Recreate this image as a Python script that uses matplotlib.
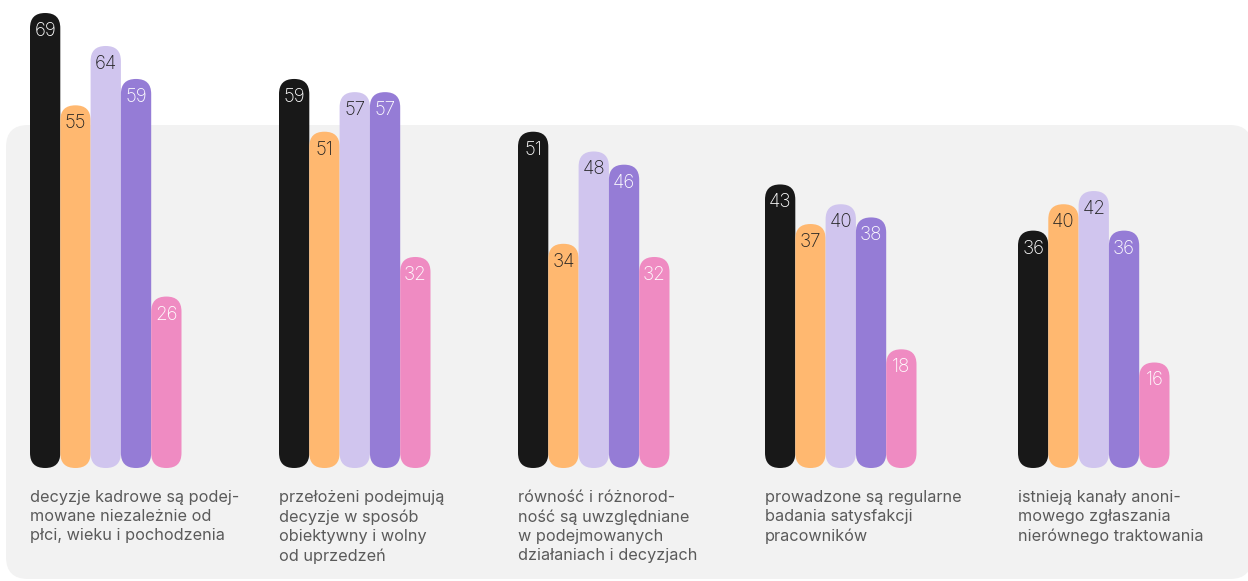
import matplotlib
matplotlib.use("Agg")
import matplotlib.pyplot as plt
from matplotlib.patches import FancyBboxPatch

categories = [
    "decyzje kadrowe są podej-\nmowane niezależnie od\npłci, wieku i pochodzenia",
    "przełożeni podejmują\ndecyzje w sposób\nobiektywny i wolny\nod uprzedzeń",
    "równość i różnorod-\nność są uwzględniane\nw podejmowanych\ndziałaniach i decyzjach",
    "prowadzone są regularne\nbadania satysfakcji\npracowników",
    "istnieją kanały anoni-\nmowego zgłaszania\nnierównego traktowania",
]
series_1 = [69, 59, 51, 43, 36]
series_2 = [55, 51, 34, 37, 40]
series_3 = [64, 57, 48, 40, 42]
series_4 = [59, 57, 46, 38, 36]
series_5 = [26, 32, 32, 18, 16]
series = [series_1, series_2, series_3, series_4, series_5]

colors = ["#181818", "#FFB870", "#D0C5EE", "#957CD6", "#EF8BC2"]
text_colors = ["#FFFFFF", "#222222", "#222222", "#FFFFFF", "#FFFFFF"]

W, H = 1248, 581
fig = plt.figure(figsize=(W / 100, H / 100), dpi=100)
ax = fig.add_axes([0, 0, 1, 1])
ax.set_axis_off()

base_px = 468
ppu = 6.594  # pixels per value unit
ax.set_xlim(0, W)
ax.set_ylim(-(H - base_px) / ppu, base_px / ppu)

def ypx(p):
    return (base_px - p) / ppu

aspect = 1 / ppu

# background panel
bg = FancyBboxPatch((6, ypx(579)), 1246, ypx(125) - ypx(579),
                    boxstyle="round,pad=0,rounding_size=22",
                    mutation_aspect=aspect, fc="#F2F2F2", ec="none", zorder=0)
ax.add_patch(bg)

group_x = [30, 279, 518, 765, 1018]
bw = 30.3
for g, gx in enumerate(group_x):
    for s in range(len(series)):
        v = series[s][g]
        x0 = gx + s * bw
        p = FancyBboxPatch((x0, 0), bw, v,
                           boxstyle="round,pad=0,rounding_size=15",
                           mutation_aspect=aspect, fc=colors[s], ec="none",
                           zorder=2 + s * 0.01)
        ax.add_patch(p)
        ax.text(x0 + bw / 2, v - 18 / ppu, str(v), ha="center", va="center",
                fontsize=13.5, color=text_colors[s], family="Inter",
                fontweight="light", zorder=5)
    ax.text(gx, ypx(490), categories[g], ha="left", va="top", fontsize=11.7,
            color="#5A5A5A", family="Inter", linespacing=1.34, zorder=5)

fig.savefig("out.png", dpi=100)
